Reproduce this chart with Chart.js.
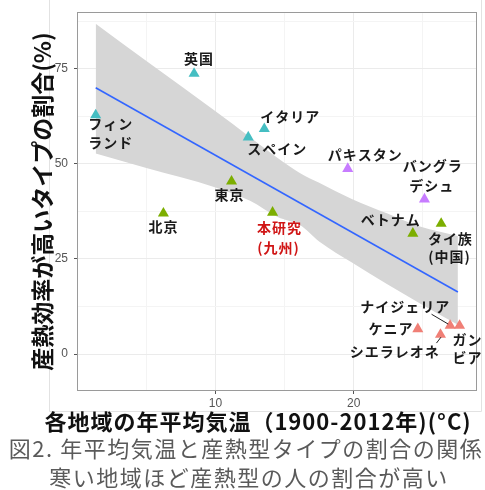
<!DOCTYPE html>
<html><head><meta charset="utf-8">
<script src="https://cdn.jsdelivr.net/npm/chart.js@4.4.1/dist/chart.umd.min.js"></script>
<style>html,body{margin:0;padding:0;background:#fff;} canvas{display:block;}</style>
</head><body>
<canvas id="c" width="485" height="490"></canvas>
<script>
// ---- data ----
const regions = ['フィンランド','英国','北京','東京','スペイン','イタリア','本研究(九州)','パキスタン','バングラデシュ','ベトナム','タイ族(中国)','ケニア','シエラレオネ','ナイジェリア','ガンビア'];
const temperature = [1.33, 8.45, 6.23, 11.16, 12.37, 13.53, 14.13, 19.57, 25.12, 24.28, 26.33, 24.64, 26.28, 26.98, 27.66];
const share = [62.8, 73.7, 37.0, 45.4, 57.0, 59.2, 37.2, 48.7, 40.7, 31.7, 34.3, 6.6, 5.1, 7.5, 7.5];
const group = ['cold','cold','mid','mid','cold','cold','mid','hot','hot','mid','mid','africa','africa','africa','africa'];
const groupNames = ['africa','mid','cold','hot'];
const labelLines = [['フィン','ランド'],['英国'],['北京'],['東京'],['スペイン'],['イタリア'],['本研究','(九州)'],['パキスタン'],['バングラ','デシュ'],['ベトナム'],['タイ族','(中国)'],['ケニア'],['シエラレオネ'],['ナイジェリア'],['ガン','ビア']];
const fitTemp = [1.33, 27.54];
const fitShare = [70.0, 16.3];
const ciTemp  = [1.33, 5, 10, 12.5, 14.5, 16.1, 17.5, 19.9, 22.4, 24.8, 27.54];
const ciUpper = [86.8, 77.0, 63.8, 57.0, 51.5, 47.6, 45.0, 40.7, 37.0, 33.5, 31.0];
const ciLower = [52.7, 48.9, 43.8, 40.3, 36.0, 33.9, 29.6, 24.0, 18.4, 13.3, 7.7];
const xMajorTicks = [10, 20];
const xMinorTicks = [5, 15, 25];
const yMajorTicks = [0, 25, 50, 75];
const yMinorTicks = [12.5, 37.5, 62.5, 87.5];
const yTitle = '産熱効率が高いタイプの割合(%)';
const xTitle = '各地域の年平均気温（1900-2012年)(°C)';
const captionLines = ['図2. 年平均気温と産熱型タイプの割合の関係', '寒い地域ほど産熱型の人の割合が高い'];

// ---- styles ----
const groupColors = {africa:'#F07F76', mid:'#7CAE00', cold:'#45BEC2', hot:'#C77CFF'};
const labelColors = regions.map(r => r === '本研究(九州)' ? '#D01515' : '#1a1a1a');
const labelOffsets = [
  [[15,9],[15,28]], [[5,-15]], [[0,13.5]], [[-2,13.5]], [[29,11.5]], [[26,-12]],
  [[7,14.7],[6,35]], [[17.5,-14]], [[8.3,-33.3],[7.3,-13.3]], [[-22,-13.3]],
  [[9.2,15],[8.4,33.3]], [[-26.7,0]], [[-45.7,16.7]], [[-44.8,-19]], [[8,14.3],[8,32]]
];
const leaders = {13: [[-18.6,-11.3],[-2,-1.5]], 12: [[-4,8.4],[0.5,2.5]]};
const CJK = '"Noto Sans CJK JP", "Noto Sans", sans-serif';

const datasets = [];
groupNames.forEach(g => {
  const idx = temperature.map((_, i) => i).filter(i => group[i] === g);
  datasets.push({
    type: 'scatter', label: g, order: 0,
    data: idx.map(i => ({x: temperature[i], y: share[i]})),
    pointStyle: 'triangle', pointRadius: 6.4, pointHoverRadius: 6.4,
    backgroundColor: groupColors[g], borderColor: groupColors[g], borderWidth: 0
  });
});
datasets.push({
  type: 'line', label: 'fit', order: 1,
  data: fitTemp.map((t, i) => ({x: t, y: fitShare[i]})),
  borderColor: '#3366FF', borderWidth: 1.6, pointRadius: 0, fill: false, tension: 0
});
datasets.push({
  type: 'line', label: 'ciU', order: 2,
  data: ciTemp.map((t, i) => ({x: t, y: ciUpper[i]})),
  borderWidth: 0, borderColor: 'rgba(0,0,0,0)', pointRadius: 0, cubicInterpolationMode: 'monotone',
  fill: '+1', backgroundColor: '#D6D6D6'
});
datasets.push({
  type: 'line', label: 'ciL', order: 3,
  data: ciTemp.map((t, i) => ({x: t, y: ciLower[i]})),
  borderWidth: 0, borderColor: 'rgba(0,0,0,0)', pointRadius: 0, cubicInterpolationMode: 'monotone', fill: false
});

const decor = {
  id: 'decor',
  beforeDraw(chart) {
    const ctx = chart.ctx;
    ctx.save();
    ctx.fillStyle = '#fff';
    ctx.fillRect(0, 0, chart.width, chart.height);
    ctx.strokeStyle = '#e2e2e2';
    ctx.lineWidth = 1;
    ctx.beginPath();
    ctx.moveTo(49.5, 0); ctx.lineTo(49.5, 411.5); ctx.lineTo(481.5, 411.5); ctx.lineTo(481.5, 0);
    ctx.stroke();
    ctx.restore();
  },
  afterDatasetsDraw(chart) {
    const ctx = chart.ctx, a = chart.chartArea;
    const xs = chart.scales.x, ys = chart.scales.y;
    ctx.save();
    ctx.strokeStyle = '#9a9a9a';
    ctx.lineWidth = 1;
    ctx.strokeRect(Math.round(a.left) - 0.5, Math.round(a.top) - 0.5, Math.round(a.right - a.left) + 1, Math.round(a.bottom - a.top) + 1);
    // leader segments
    ctx.strokeStyle = '#222';
    ctx.lineWidth = 1;
    Object.keys(leaders).forEach(k => {
      const i = +k, px = xs.getPixelForValue(temperature[i]), py = ys.getPixelForValue(share[i]);
      const s = leaders[k];
      ctx.beginPath();
      ctx.moveTo(px + s[0][0], py + s[0][1]);
      ctx.lineTo(px + s[1][0], py + s[1][1]);
      ctx.stroke();
    });
    // labels
    ctx.font = 'bold 14px ' + CJK;
    ctx.textAlign = 'center';
    ctx.textBaseline = 'middle';
    ctx.letterSpacing = '1px';
    regions.forEach((r, i) => {
      const px = xs.getPixelForValue(temperature[i]), py = ys.getPixelForValue(share[i]);
      ctx.fillStyle = labelColors[i];
      labelLines[i].forEach((line, j) => {
        const o = labelOffsets[i][j];
        ctx.fillText(line, px + o[0], py + o[1]);
      });
    });
    // x title
    ctx.fillStyle = '#111';
    ctx.font = 'bold 22px ' + CJK;
    ctx.letterSpacing = '1px';
    ctx.fillText(xTitle, 258, 422);
    // caption
    ctx.fillStyle = '#5a5a5a';
    ctx.font = '22px ' + CJK;
    ctx.letterSpacing = '1.5px';
    ctx.fillText(captionLines[0], 246, 449);
    ctx.fillText(captionLines[1], 249, 478);
    ctx.restore();
  }
};

function tickStyle(majors) {
  return c => (c.tick && majors.includes(c.tick.value)) ? '#ebebeb' : '#f4f4f4';
}

new Chart(document.getElementById('c'), {
  data: {datasets},
  plugins: [decor],
  options: {
    responsive: false, animation: false, devicePixelRatio: 1,
    layout: {padding: {left: 0, right: 9, top: 5, bottom: 80}},
    plugins: {legend: {display: false}, tooltip: {enabled: false}},
    scales: {
      x: {
        type: 'linear', min: 0.05, max: 28.85,
        afterBuildTicks: s => { s.ticks = xMinorTicks.concat(xMajorTicks).sort((a,b)=>a-b).map(v => ({value: v})); },
        afterFit: s => { s.height = 20; },
        border: {display: false},
        grid: {color: tickStyle(xMajorTicks), lineWidth: 1, tickLength: 4,
               tickColor: c => (c.tick && xMajorTicks.includes(c.tick.value)) ? '#555' : 'rgba(0,0,0,0)'},
        ticks: {autoSkip: false, maxRotation: 0, padding: 2, color: '#555',
                font: {size: 12, family: 'Liberation Sans, Arial, sans-serif'},
                callback: v => xMajorTicks.includes(v) ? String(v) : ''}
      },
      y: {
        type: 'linear', min: -9.44, max: 89.58,
        afterBuildTicks: s => { s.ticks = yMinorTicks.concat(yMajorTicks).sort((a,b)=>a-b).map(v => ({value: v})); },
        afterFit: s => { s.width = 78; },
        border: {display: false},
        grid: {color: tickStyle(yMajorTicks), lineWidth: 1, tickLength: 4,
               tickColor: c => (c.tick && yMajorTicks.includes(c.tick.value)) ? '#555' : 'rgba(0,0,0,0)'},
        ticks: {autoSkip: false, padding: 6, color: '#555',
                font: {size: 12, family: 'Liberation Sans, Arial, sans-serif'},
                callback: v => yMajorTicks.includes(v) ? String(v) : ''},
        title: {display: true, text: yTitle, color: '#111',
                font: {size: 23, weight: 'bold', family: CJK}, padding: {top: 28, bottom: 0}}
      }
    }
  }
});
</script>
</body></html>
